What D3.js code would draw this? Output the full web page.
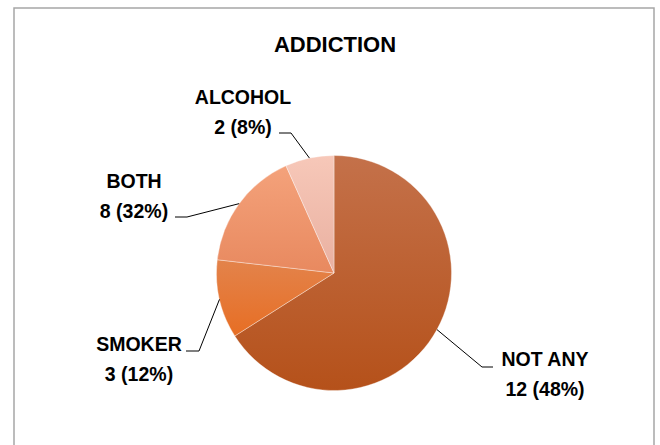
<!DOCTYPE html>
<html>
<head>
<meta charset="utf-8">
<script src="https://cdn.jsdelivr.net/npm/d3@7"></script>
<style>
  body { margin: 0; background: #fff; }
  svg text { font-family: "Liberation Sans", Arial, sans-serif; font-weight: bold; fill: #000; }
</style>
</head>
<body>
<div id="container"></div>
<script>

// chart data
var categories = ["NOT ANY", "SMOKER", "BOTH", "ALCOHOL"];
var counts = [12, 3, 8, 2];
var percents = [48, 12, 32, 8];
// share of the circle each slice takes in the picture (the drawn angles)
var sliceShare = [66, 10.8, 16.5, 6.7];

// gradient top / bottom colours per slice
var topColors = ["#c4714a", "#e3834b", "#f4a27b", "#f7c8b9"];
var bottomColors = ["#b5511a", "#e76e24", "#e8895f", "#e9b0a0"];

// where each label block sits (centre x, first baseline y) and the leader elbow
var labelPos = [[545, 366], [139, 351], [134, 188], [243, 104]];
var elbow = [[482, 367, 493], [199, 351, 186], [187, 217, 175], [291, 133, 279]];

var width = 660, height = 445;
var cx = 334, cy = 273, radius = 117.5;

var svg = d3.select("#container").append("svg")
    .attr("width", width)
    .attr("height", height);

// frame
svg.append("path")
    .attr("d", "M14,450 L14,8 L654,8 L654,450")
    .attr("fill", "none")
    .attr("stroke", "#a6a6a6")
    .attr("stroke-width", 1.5);

svg.append("text")
    .attr("x", 335)
    .attr("y", 52)
    .attr("text-anchor", "middle")
    .style("font-size", "22px")
    .text("ADDICTION");

var defs = svg.append("defs");
categories.forEach(function (c, i) {
    var g = defs.append("linearGradient")
        .attr("id", "grad" + i)
        .attr("x1", 0).attr("y1", 0)
        .attr("x2", 0).attr("y2", 1);
    g.append("stop").attr("offset", "0%").attr("stop-color", topColors[i]);
    g.append("stop").attr("offset", "100%").attr("stop-color", bottomColors[i]);
});

var pie = d3.pie().sort(null).value(function (d) { return d; });
var arcs = pie(sliceShare);

var arc = d3.arc().innerRadius(0).outerRadius(radius);

var pieG = svg.append("g").attr("transform", "translate(" + cx + "," + cy + ")");

pieG.selectAll("path.slice")
    .data(arcs)
    .enter()
    .append("path")
    .attr("class", "slice")
    .attr("d", arc)
    .attr("fill", function (d, i) { return "url(#grad" + i + ")"; })
    .attr("stroke", "rgba(255,255,255,0.45)")
    .attr("stroke-width", 0.8);

// leader lines: from slice edge at mid angle to elbow then horizontal
arcs.forEach(function (d, i) {
    var mid = (d.startAngle + d.endAngle) / 2;
    var px = cx + radius * Math.sin(mid);
    var py = cy - radius * Math.cos(mid);
    var e = elbow[i];
    svg.append("polyline")
        .attr("points", [[px, py], [e[0], e[1]], [e[2], e[1]]].map(function (p) { return p.join(","); }).join(" "))
        .attr("fill", "none")
        .attr("stroke", "#000")
        .attr("stroke-width", 1);

    var t = svg.append("text")
        .attr("text-anchor", "middle")
        .style("font-size", "19.5px");
    t.append("tspan")
        .attr("x", labelPos[i][0])
        .attr("y", labelPos[i][1])
        .text(categories[i]);
    t.append("tspan")
        .attr("x", labelPos[i][0])
        .attr("y", labelPos[i][1] + 30)
        .text(counts[i] + " (" + percents[i] + "%)");
});

</script>
</body>
</html>
